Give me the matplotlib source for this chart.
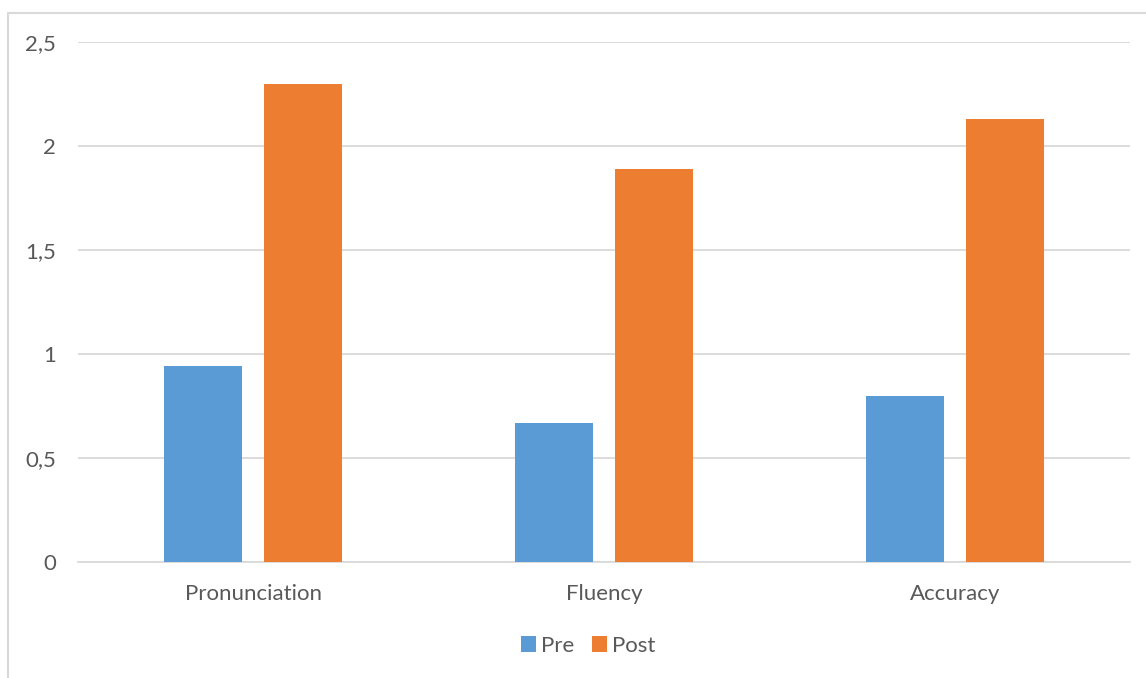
import matplotlib.pyplot as plt
import numpy as np
from matplotlib.patches import Rectangle

categories = ['Pronunciation', 'Fluency', 'Accuracy']
pre = [0.94, 0.67, 0.80]
post = [2.30, 1.89, 2.13]
yticks = [0, 0.5, 1, 1.5, 2, 2.5]
ytick_labels = ['0', '0,5', '1', '1,5', '2', '2,5']

plt.rcParams['font.family'] = ['Lato', 'DejaVu Sans']
txt = '#595959'

fig = plt.figure(figsize=(11.46, 6.78), dpi=100)
ax = fig.add_axes([0.0681, 0.1711, 0.9180, 0.7669])

# outer chart frame (runs off the right and bottom edges)
fig.patches.append(Rectangle((8/1146, -0.05), 1.2, 1 - 13/678 + 0.05,
                             transform=fig.transFigure, fill=False,
                             edgecolor='#d9d9d9', linewidth=1.5))

x = np.arange(len(categories))
w = 0.222
gap = 0.063
ax.bar(x - (w + gap)/2, pre, w, color='#5B9BD5', label='Pre', zorder=3)
ax.bar(x + (w + gap)/2, post, w, color='#ED7D31', label='Post', zorder=3)

ax.set_xlim(-0.5, 2.5)
ax.set_ylim(0, 2.5)
ax.set_yticks(yticks)
ax.set_yticklabels(ytick_labels)
ax.set_xticks(x)
ax.set_xticklabels(categories)
ax.grid(axis='y', color='#d9d9d9', linewidth=1.3, zorder=0)
ax.tick_params(length=0, labelsize=16, colors=txt)
ax.tick_params(axis='y', pad=16)
ax.tick_params(axis='x', pad=16)
for s in ['top', 'right', 'left']:
    ax.spines[s].set_visible(False)
ax.spines['bottom'].set_color('#d9d9d9')
ax.spines['bottom'].set_linewidth(1.3)

leg = ax.legend(loc='center', bbox_to_anchor=(588/1146, 1 - 646/678),
                bbox_transform=fig.transFigure, ncol=2, frameon=False,
                fontsize=16, handlelength=0.7, handleheight=0.7,
                handletextpad=0.2, columnspacing=0.8)
for t in leg.get_texts():
    t.set_color(txt)

fig.savefig('out.png', dpi=100)
